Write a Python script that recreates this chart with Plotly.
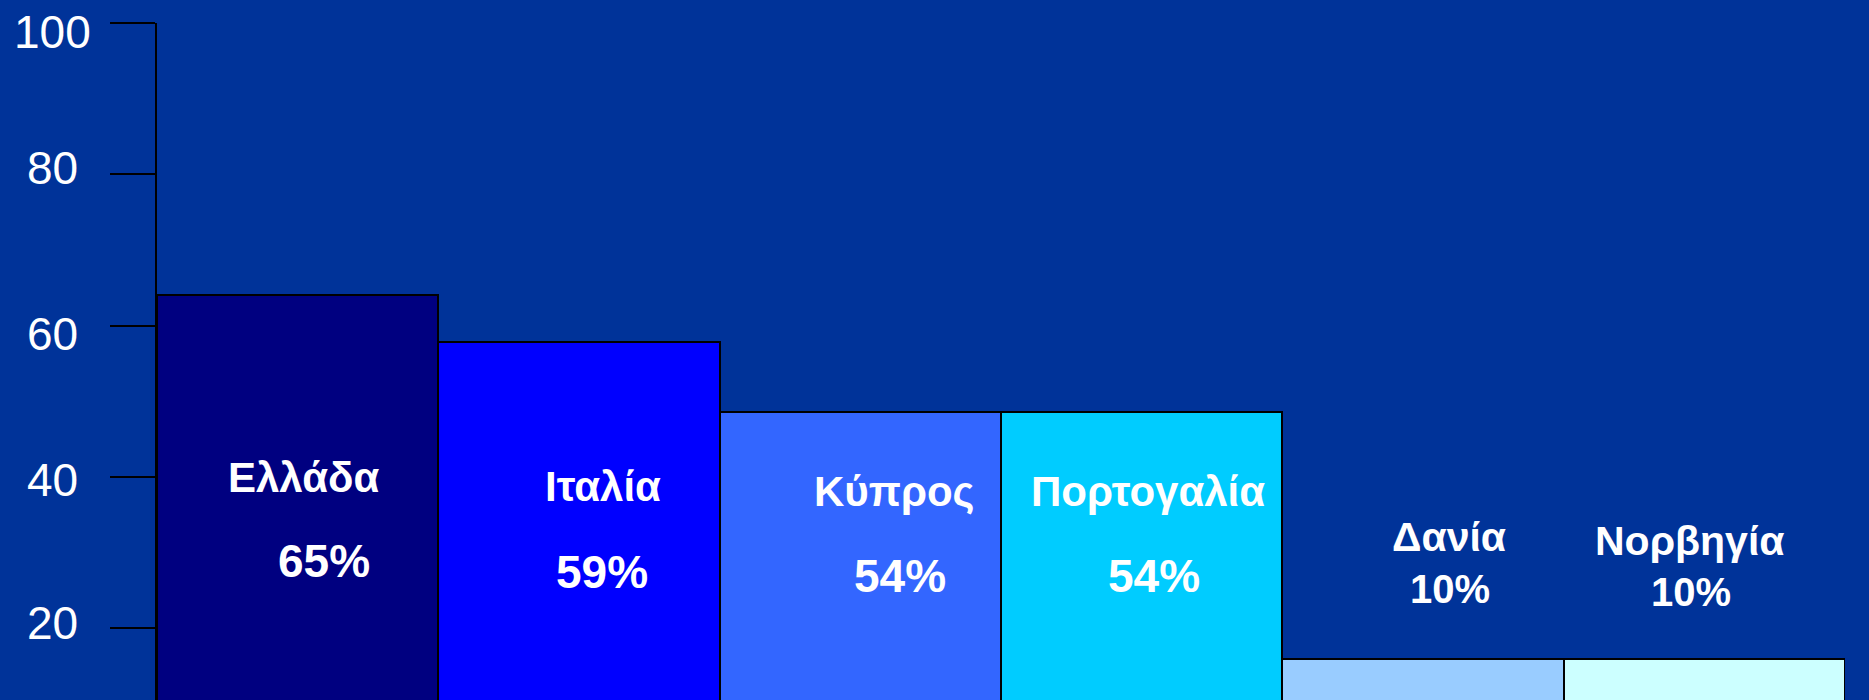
import plotly.graph_objects as go

countries = ["Ελλάδα", "Ιταλία", "Κύπρος", "Πορτογαλία", "Δανία", "Νορβηγία"]
bar_heights = [64.1, 57.8, 48.5, 48.5, 15.9, 15.9]
pct_labels = ["65%", "59%", "54%", "54%", "10%", "10%"]
bar_colors = ["#000080", "#0000FF", "#3366FF", "#00CCFF", "#99CCFF", "#CCFFFF"]
tick_vals = [20, 40, 60, 80, 100]
tick_text = ["20", "40", "60", "80", "100"]

# label layout (text placement only)
name_y = [39.9, 38.7, 38.1, 38.0, 32.0, 31.5]
name_dx = [6, 24, 34, 6, 26, -14]
name_size = [42, 42, 42, 42, 41, 41]
pct_y = [28.8, 27.4, 26.9, 26.9, 25.1, 24.7]
pct_dx = [26, 23, 40, 12, 27, -13]
pct_size = [46, 46, 46, 46, 40, 40]
tick_label_dy = [5, -3, -8, 6, -9]   # pixel nudges of the tick labels (positive = up)

FONT = "Arial, 'Liberation Sans', sans-serif"
BG = "#003399"

fig = go.Figure()
fig.add_trace(go.Bar(
    x=countries, y=bar_heights,
    marker=dict(color=bar_colors, line=dict(color="black", width=2)),
    hoverinfo="skip",
))

annotations = []
for i, c in enumerate(countries):
    annotations.append(dict(x=c, y=name_y[i], xref="x", yref="y", text="<b>%s</b>" % c,
                            showarrow=False, xshift=name_dx[i], xanchor="center", yanchor="middle",
                            font=dict(family=FONT, size=name_size[i], color="white")))
    annotations.append(dict(x=c, y=pct_y[i], xref="x", yref="y", text="<b>%s</b>" % pct_labels[i],
                            showarrow=False, xshift=pct_dx[i], xanchor="center", yanchor="middle",
                            font=dict(family=FONT, size=pct_size[i], color="white")))

# y tick labels, centred in the left margin like the original
for v, t, dy in zip(tick_vals, tick_text, tick_label_dy):
    annotations.append(dict(x=0, y=v, xref="paper", yref="y", text=t, showarrow=False,
                            xshift=-105, yshift=dy, xanchor="center", yanchor="middle",
                            font=dict(family=FONT, size=46, color="white")))

fig.update_layout(
    width=1869, height=700,
    margin=dict(l=157, r=24, t=23, b=0, autoexpand=False),
    paper_bgcolor=BG, plot_bgcolor=BG,
    bargap=0, showlegend=False,
    annotations=annotations,
    xaxis=dict(visible=False, range=[-0.5, 5.5], automargin=False),
    yaxis=dict(range=[10.48, 100], tickvals=tick_vals, ticktext=tick_text, automargin=False,
               showgrid=False, zeroline=False, showline=True, linecolor="black", linewidth=2,
               ticks="outside", ticklen=45, tickwidth=2, tickcolor="black",
               showticklabels=False),
)

fig.write_html("out.html")
